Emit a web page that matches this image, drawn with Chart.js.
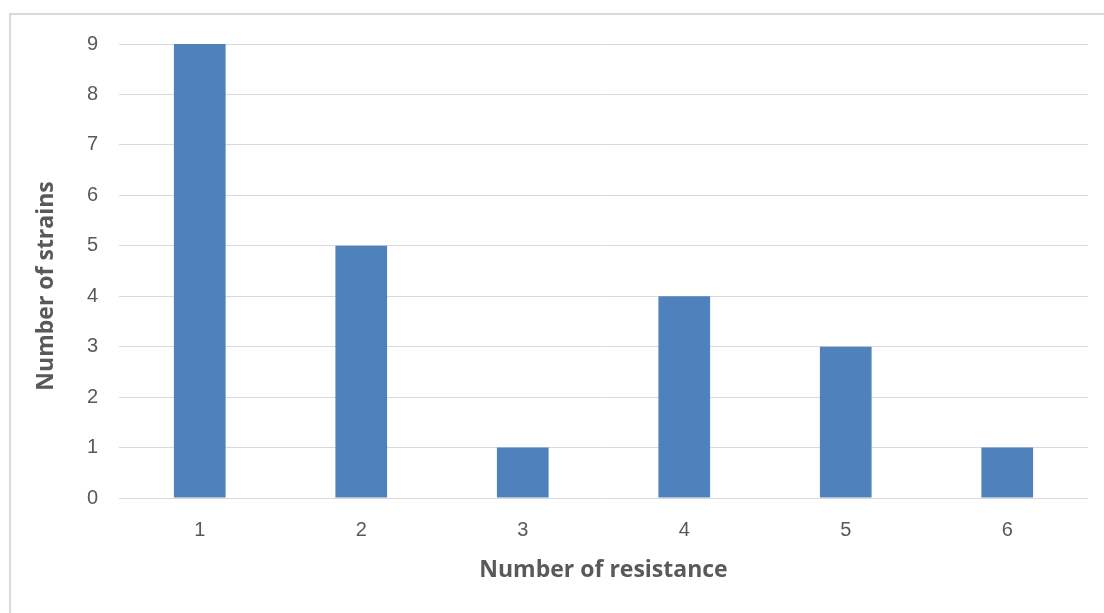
<!DOCTYPE html>
<html>
<head>
<meta charset="utf-8">
<script src="https://cdn.jsdelivr.net/npm/chart.js@4"></script>
<style>
  html, body { margin: 0; padding: 0; background: #fff; overflow: hidden; }
  #frame { position: absolute; left: 9px; top: 13px; width: 1200px; height: 700px; border: 2px solid #d9d9d9; }
  #wrap { position: absolute; left: 0; top: 0; width: 1104px; height: 613px; }
</style>
</head>
<body>
<div id="frame"></div>
<div id="wrap"><canvas id="resistChart" width="1104" height="613"></canvas></div>
<script>
// number of resistances per strain
const categories = ['1', '2', '3', '4', '5', '6'];
const strainCounts = [9, 5, 1, 4, 3, 1];
const yTicks = [0, 1, 2, 3, 4, 5, 6, 7, 8, 9];

const textGrey = '#595959';
const fontFamily = '"Liberation Sans", Arial, sans-serif';
const titleFamily = '"Open Sans", "Liberation Sans", sans-serif';

const ctx = document.getElementById('resistChart').getContext('2d');
new Chart(ctx, {
    type: 'bar',
    data: {
        labels: categories,
        datasets: [{
            label: 'Number of strains',
            data: strainCounts,
            backgroundColor: '#4f81bd',
            borderWidth: 0,
            categoryPercentage: 1,
            barPercentage: 0.32
        }]
    },
    options: {
        responsive: false,
        animation: false,
        plugins: { legend: { display: false }, tooltip: { enabled: false } },
        layout: { padding: { top: 44, right: 16, bottom: 0, left: 0 } },
        scales: {
            x: {
                grid: { display: false, drawTicks: false },
                border: { display: false },
                ticks: { color: textGrey, padding: 20, font: { family: fontFamily, size: 20 } },
                title: {
                    display: true,
                    text: 'Number of resistance',
                    color: textGrey,
                    padding: { top: 0, bottom: 29 },
                    font: { family: titleFamily, size: 23, weight: 'bold' }
                },
                afterFit: scale => { scale.height = 115; }
            },
            y: {
                min: 0,
                max: yTicks[yTicks.length - 1],
                afterBuildTicks: scale => { scale.ticks = yTicks.map(v => ({ value: v })); },
                grid: { color: '#d9d9d9', lineWidth: 1, drawTicks: false },
                border: { display: false },
                ticks: { color: textGrey, padding: 21, font: { family: fontFamily, size: 20 } },
                title: {
                    display: true,
                    // trailing spaces push the text down a bit, like the original
                    text: 'Number of strains     ',
                    color: textGrey,
                    padding: { top: 33, bottom: 0 },
                    font: { family: titleFamily, size: 23, weight: 'bold' }
                },
                afterFit: scale => { scale.width = 119; }
            }
        }
    }
});
</script>
</body>
</html>
